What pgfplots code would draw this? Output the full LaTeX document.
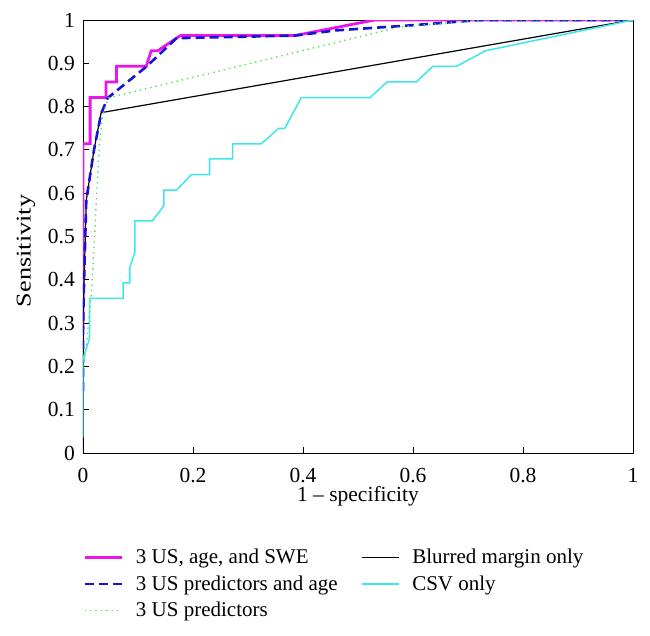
\documentclass[border=0pt]{standalone}
\usepackage{pgfplots}
\pgfplotsset{compat=1.18}
\usepackage{fontspec}
\setmainfont{Liberation Serif}
\definecolor{cMag}{RGB}{235,20,235}
\definecolor{cBlue}{RGB}{20,20,215}
\definecolor{cGreen}{RGB}{90,225,80}
\definecolor{cCyan}{RGB}{60,230,235}
\begin{document}
\begin{tikzpicture}
\begin{axis}[
  scale only axis,
  width=550pt, height=433pt,
  xmin=0, xmax=1, ymin=0, ymax=1,
  xtick={0,0.2,0.4,0.6,0.8,1},
  ytick={0,0.1,0.2,0.3,0.4,0.5,0.6,0.7,0.8,0.9,1},
  xticklabels={0,0.2,0.4,0.6,0.8,1},
  yticklabels={0,0.1,0.2,0.3,0.4,0.5,0.6,0.7,0.8,0.9,1},
  xtick pos=bottom, ytick pos=left,
  tick align=inside,
  major tick length=6pt,
  axis line style={line width=0.9pt},
  tick style={line width=0.9pt, black},
  font=\fontsize{21}{25}\selectfont,
  /pgf/number format/assume math mode=true,
  xticklabel style={inner sep=0pt, anchor=north, yshift=-15pt, font=\fontsize{21.5}{25}\selectfont},
  yticklabel style={inner sep=0pt, anchor=east, xshift=-8pt, font=\fontsize{21.5}{25}\selectfont},
  xlabel={1 -- specificity},
  ylabel={Sensitivity},
  xlabel style={at={(axis description cs:0.5,-0.111)}, anchor=base, inner sep=0pt, font=\fontsize{21.5}{25}\selectfont},
  ylabel style={at={(axis description cs:-0.1036,0.4665)}, anchor=center, xscale=1.25, inner sep=0pt, font=\fontsize{21}{25}\selectfont},
  legend columns=2,
  legend cell align=left,
  legend image code/.code={\draw[#1] (0pt,0pt) -- (37pt,0pt);},
  legend style={at={(axis description cs:0,-0.2217)}, anchor=north west,
    draw=none, fill=none, inner sep=0pt, row sep=10.5pt,
    nodes={inner sep=0pt},
    font=\fontsize{21}{25}\selectfont,
    /tikz/every odd column/.append style={column sep=13pt},
    /tikz/every even column/.append style={column sep=23pt}},
]
% 3 US, age, and SWE
\addplot[cMag, line width=2.8pt] coordinates {
 (0,0.286) (0,0.714) (0.013,0.714) (0.013,0.821) (0.042,0.821) (0.042,0.857)
 (0.061,0.857) (0.061,0.893) (0.115,0.893) (0.124,0.929) (0.136,0.929)
 (0.177,0.964) (0.385,0.964) (0.53,1) (1,1)};
\addlegendentry{3 US, age, and SWE}
% Blurred margin only
\addplot[black, line width=1.2pt] coordinates {
 (0,0) (0,0.3) (0.006,0.584) (0.02,0.7) (0.033,0.786) (1,1)};
\addlegendentry{Blurred margin only}
% 3 US predictors and age
\addplot[cBlue, line width=2.6pt, dash pattern=on 9pt off 5pt] coordinates {
 (0,0.143) (0,0.286) (0.002,0.4) (0.006,0.584) (0.02,0.7) (0.033,0.784)
 (0.045,0.82) (0.115,0.892) (0.17,0.958) (0.385,0.964) (0.46,0.976)
 (0.6,0.988) (0.72,1) (1,1)};
\addlegendentry{3 US predictors and age}
% CSV only
\addplot[cCyan, line width=1.5pt] coordinates {
 (0,0.036) (0,0.214) (0.002,0.226) (0.012,0.265) (0.012,0.357) (0.073,0.357)
 (0.073,0.393) (0.085,0.393) (0.085,0.429) (0.0945,0.464) (0.0945,0.536)
 (0.126,0.536) (0.147,0.571) (0.147,0.607) (0.170,0.607) (0.197,0.643)
 (0.230,0.643) (0.230,0.679) (0.272,0.679) (0.272,0.714) (0.324,0.714)
 (0.356,0.75) (0.367,0.75) (0.397,0.821) (0.522,0.821) (0.553,0.857)
 (0.606,0.857) (0.636,0.893) (0.679,0.893) (0.732,0.929) (1,1)};
\addlegendentry{CSV only}
% 3 US predictors
\addplot[cGreen, line width=1.4pt, dash pattern=on 1.4pt off 4pt] coordinates {
 (0.002,0.2) (0.01,0.3) (0.016,0.38) (0.021,0.5) (0.025,0.6) (0.03,0.716)
 (0.036,0.78) (0.046,0.82) (0.576,0.984) (0.72,1) (1,1)};
\addlegendentry{3 US predictors}
\end{axis}
\pgfresetboundingbox
\path[use as bounding box] (-83pt,-182pt) rectangle (567pt,453pt);
\end{tikzpicture}
\end{document}
